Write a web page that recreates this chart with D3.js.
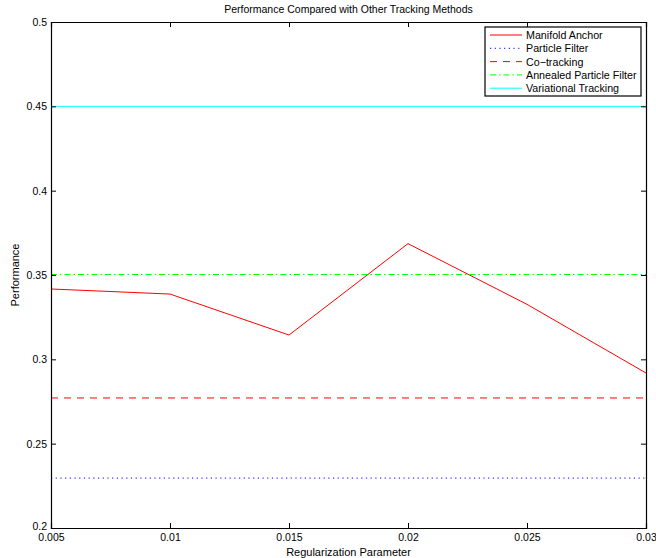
<!DOCTYPE html>
<html>
<head>
<meta charset="utf-8">
<script src="https://cdn.jsdelivr.net/npm/d3@7"></script>
<style>
body{margin:0;background:#fff}
text{font-family:"Liberation Sans",Arial,sans-serif}
</style>
</head>
<body>
<div id="chart"></div>
<script>
var xTicks=[0.005,0.01,0.015,0.02,0.025,0.03]
var yTicks=[0.2,0.25,0.3,0.35,0.4,0.45,0.5]
var xTickLabels=["0.005","0.01","0.015","0.02","0.025","0.03"]
var yTickLabels=["0.2","0.25","0.3","0.35","0.4","0.45","0.5"]

var manifoldAnchor=[0.3417,0.3387,0.3144,0.3686,0.3326,0.2919]
var particleFilter=[0.2296,0.2296,0.2296,0.2296,0.2296,0.2296]
var coTracking=[0.2771,0.2771,0.2771,0.2771,0.2771,0.2771]
var annealedPF=[0.3503,0.3503,0.3503,0.3503,0.3503,0.3503]
var variational=[0.45,0.45,0.45,0.45,0.45,0.45]

var seriesNames=["Manifold Anchor","Particle Filter","Co\u2212tracking","Annealed Particle Filter","Variational Tracking"]
var seriesColors=["#ff0000","#0000ff","#ff0000","#00ff00","#00ffff"]
var seriesDash=[null,"1.2,3.5","7,6","6,3,1.5,3",null]

var W=656,H=558
var m={top:22,right:10,bottom:30,left:51}
var w=W-m.left-m.right, h=H-m.top-m.bottom

var svg=d3.select("#chart").append("svg").attr("width",W).attr("height",H)

var x=d3.scaleLinear().domain([0.005,0.03]).range([m.left,m.left+w])
var y=d3.scaleLinear().domain([0.2,0.5]).range([m.top+h,m.top])

// lines
var all=[manifoldAnchor,particleFilter,coTracking,annealedPF,variational]
var line=d3.line().x(function(d,i){return x(xTicks[i])}).y(function(d){return y(d)})

var clip=svg.append("defs").append("clipPath").attr("id","clip")
clip.append("rect").attr("x",m.left).attr("y",m.top).attr("width",w).attr("height",h)

var inner=svg.append("g").attr("clip-path","url(#clip)")
all.forEach(function(s,i){
	inner.append("path")
		.datum(s)
		.attr("fill","none")
		.attr("stroke",seriesColors[i])
		.attr("stroke-width",1)
		.attr("stroke-dasharray",seriesDash[i])
		.attr("d",line)
})

// axes (matlab box, ticks inside)
var ax=svg.append("g").attr("transform","translate(0,"+(m.top+h)+")")
	.call(d3.axisBottom(x).tickValues(xTicks).tickSize(-5).tickPadding(6).tickFormat(function(d,i){return xTickLabels[i]}))
var axTop=svg.append("g").attr("transform","translate(0,"+m.top+")")
	.call(d3.axisTop(x).tickValues(xTicks).tickSize(-5).tickFormat(""))
var ay=svg.append("g").attr("transform","translate("+m.left+",0)")
	.call(d3.axisLeft(y).tickValues(yTicks).tickSize(-5).tickPadding(4).tickFormat(function(d,i){return yTickLabels[i]}))
var ayR=svg.append("g").attr("transform","translate("+(m.left+w)+",0)")
	.call(d3.axisRight(y).tickValues(yTicks).tickSize(-5).tickFormat(""))

svg.selectAll(".domain").attr("stroke","#000").attr("stroke-width",1.2)
svg.selectAll(".tick line").attr("stroke","#000")
svg.selectAll(".tick text").attr("font-size",10.5).attr("fill","#000")
	.attr("font-family","'Liberation Sans',Arial,sans-serif")
// lowest y label sits a touch higher so it clears 0.005
ay.selectAll(".tick text").filter(function(d){return d==0.2}).attr("dy","0.1em")

// titles
svg.append("text").attr("x",m.left+w/2).attr("y",13).attr("text-anchor","middle")
	.attr("font-size",10.5).text("Performance Compared with Other Tracking Methods")
svg.append("text").attr("x",m.left+w/2).attr("y",555.5).attr("text-anchor","middle")
	.attr("font-size",11).text("Regularization Parameter")
svg.append("text").attr("transform","translate(19,"+(m.top+h/2)+") rotate(-90)")
	.attr("text-anchor","middle").attr("font-size",11).text("Performance")

// legend
var lg=svg.append("g").attr("transform","translate(485,27)")
lg.append("rect").attr("width",156).attr("height",69).attr("fill","#fff")
	.attr("stroke","#000").attr("stroke-width",1.2)
var items=lg.selectAll(".item").data(seriesNames).enter().append("g")
	.attr("transform",function(d,i){return "translate(0,"+(8+i*13.3)+")"})
items.append("line").attr("x1",5).attr("x2",37).attr("y1",0).attr("y2",0)
	.attr("stroke",function(d,i){return seriesColors[i]})
	.attr("stroke-width",1)
	.attr("stroke-dasharray",function(d,i){return seriesDash[i]})
items.append("text").attr("x",41).attr("y",4).attr("font-size",10.7).attr("fill","#000")
	.text(function(d){return d})
</script>
</body>
</html>
